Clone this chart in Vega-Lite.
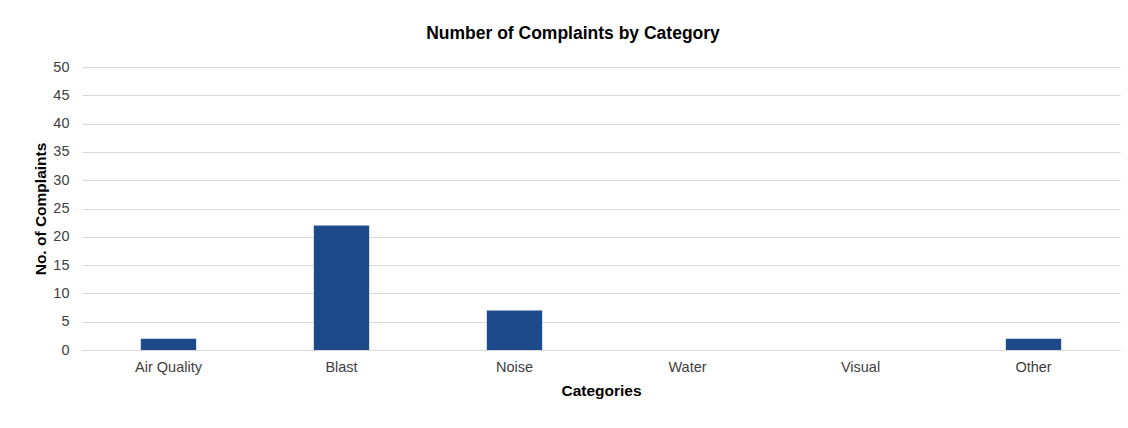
{
  "$schema": "https://vega.github.io/schema/vega-lite/v6.json",
  "autosize": {"type": "none"},
  "padding": {"left": 82, "top": 67, "right": 8, "bottom": 78},
  "width": 1038,
  "height": 283,
  "background": "white",
  "title": {
    "text": "Number of Complaints by Category",
    "font": "Liberation Sans",
    "fontSize": 17.5,
    "fontWeight": "bold",
    "color": "#000000",
    "anchor": "middle",
    "offset": 17,
    "dx": -28
  },
  "data": {
    "values": [
      {"category": "Air Quality", "count": 2},
      {"category": "Blast", "count": 22},
      {"category": "Noise", "count": 7},
      {"category": "Water", "count": 0},
      {"category": "Visual", "count": 0},
      {"category": "Other", "count": 2}
    ]
  },
  "mark": {"type": "bar", "color": "#1d4a8a"},
  "encoding": {
    "x": {
      "field": "category",
      "type": "nominal",
      "sort": null,
      "scale": {"paddingInner": 0.68, "paddingOuter": 0.34},
      "axis": {
        "title": "Categories",
        "labelAngle": 0,
        "labelFont": "Liberation Sans",
        "labelFontSize": 14.5,
        "labelColor": "#404040",
        "labelPadding": 10,
        "titleFont": "Liberation Sans",
        "titleFontSize": 15.5,
        "titleFontWeight": "bold",
        "titleColor": "#000000",
        "titlePadding": 10,
        "ticks": false,
        "domain": true,
        "domainColor": "#d9d9d9",
        "grid": false
      }
    },
    "y": {
      "field": "count",
      "type": "quantitative",
      "scale": {"domain": [0, 50]},
      "axis": {
        "title": "No. of Complaints",
        "values": [0, 5, 10, 15, 20, 25, 30, 35, 40, 45, 50],
        "labelFont": "Liberation Sans",
        "labelFontSize": 14.5,
        "labelColor": "#404040",
        "labelPadding": 13,
        "titleFont": "Liberation Sans",
        "titleFontSize": 15.5,
        "titleFontWeight": "bold",
        "titleColor": "#000000",
        "titlePadding": 4,
        "ticks": false,
        "domain": false,
        "grid": true,
        "gridColor": "#d9d9d9"
      }
    }
  },
  "config": {"view": {"stroke": null}}
}
